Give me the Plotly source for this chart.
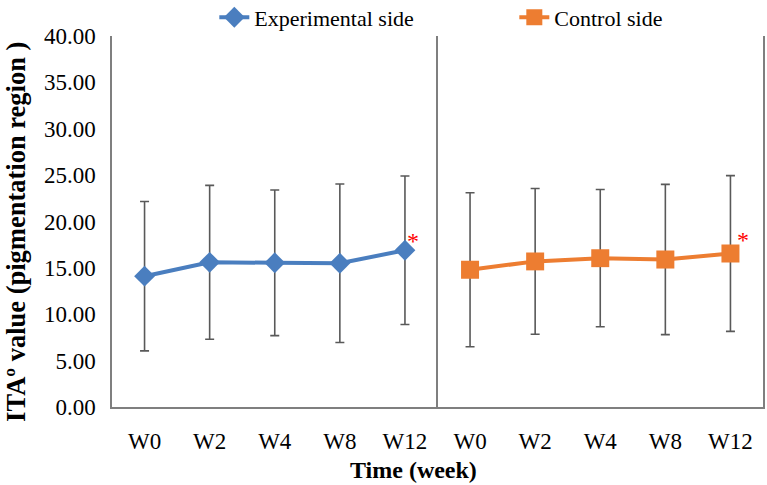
import plotly.graph_objects as go
from plotly.subplots import make_subplots

weeks = ["W0", "W2", "W4", "W8", "W12"]
exp_mean = [14.1, 15.6, 15.55, 15.5, 16.9]
exp_err = [8.05, 8.3, 7.85, 8.55, 8.0]
ctrl_mean = [14.8, 15.7, 16.05, 15.9, 16.55]
ctrl_err = [8.3, 7.85, 7.4, 8.1, 8.4]
y_ticks = [0, 5, 10, 15, 20, 25, 30, 35, 40]

FONT = "Liberation Serif, Times New Roman, serif"
BLUE = "#4A7EBF"
ORANGE = "#ED7D31"
ERR = "#595959"
FRAME = "#7F7F7F"

fig = make_subplots(rows=1, cols=2, shared_yaxes=True, horizontal_spacing=0)

fig.add_trace(go.Scatter(
    x=weeks, y=exp_mean, name="Experimental side", mode="lines+markers",
    line=dict(color=BLUE, width=4),
    marker=dict(symbol="diamond", size=16, color=BLUE),
    error_y=dict(type="data", array=exp_err, visible=True, color=ERR, thickness=1.6, width=4.5),
), row=1, col=1)

fig.add_trace(go.Scatter(
    x=weeks, y=ctrl_mean, name="Control side", mode="lines+markers",
    line=dict(color=ORANGE, width=4),
    marker=dict(symbol="square", size=18, color=ORANGE),
    error_y=dict(type="data", array=ctrl_err, visible=True, color=ERR, thickness=1.6, width=4.5),
), row=1, col=2)

xcommon = dict(type="category", range=[-0.5, 4.5], showgrid=False, zeroline=False,
               showline=True, linecolor=FRAME, linewidth=1.5, ticks="",
               tickfont=dict(family=FONT, size=23, color="#000"), ticklabelstandoff=13)
fig.update_xaxes(**xcommon)
fig.update_layout(xaxis=dict(domain=[0, 0.5]), xaxis2=dict(domain=[0.5, 1]))

ycommon = dict(range=[0, 40], tickvals=y_ticks, tickformat=".2f", showgrid=False,
               zeroline=False, showline=True, linecolor=FRAME, linewidth=1.5,
               ticks="", tickfont=dict(family=FONT, size=23, color="#000"))
fig.update_yaxes(**ycommon)
fig.update_layout(yaxis=dict(ticklabelstandoff=10, mirror=False),
                  yaxis2=dict(showticklabels=False, mirror=True))

# significance asterisks
fig.add_annotation(x="W12", y=exp_mean[-1], xref="x", yref="y", text="*", showarrow=False,
                   font=dict(family=FONT, size=24, color="red"), xshift=8, yshift=9)
fig.add_annotation(x="W12", y=ctrl_mean[-1], xref="x2", yref="y", text="*", showarrow=False,
                   font=dict(family=FONT, size=24, color="red"), xshift=13, yshift=14)

# axis titles
fig.add_annotation(x=0, y=0.472, xref="paper", yref="paper", xshift=-96, text="<b>ITAº value (pigmentation region )</b>",
                   textangle=-90, showarrow=False, xanchor="center", yanchor="middle",
                   font=dict(family=FONT, size=26.5, color="#000"))
fig.add_annotation(x=0.463, y=0, xref="paper", yref="paper", yshift=-63, text="<b>Time (week)</b>",
                   showarrow=False, xanchor="center", yanchor="middle",
                   font=dict(family=FONT, size=24, color="#000"))

fig.update_layout(
    width=767, height=485,
    margin=dict(l=112, r=4, t=36, b=78, autoexpand=False),
    paper_bgcolor="white", plot_bgcolor="white",
    showlegend=True,
    legend=dict(orientation="h", x=0.618, y=1.05, xanchor="center", yanchor="middle",
                font=dict(family=FONT, size=22, color="#000"), entrywidth=255, entrywidthmode="pixels",
                bgcolor="rgba(0,0,0,0)"),
)

# remove the browser's default 8px page margin so the figure fills the window
fig.write_html("out.html", config={"displayModeBar": False},
               post_script="document.body.style.margin='0px';")
